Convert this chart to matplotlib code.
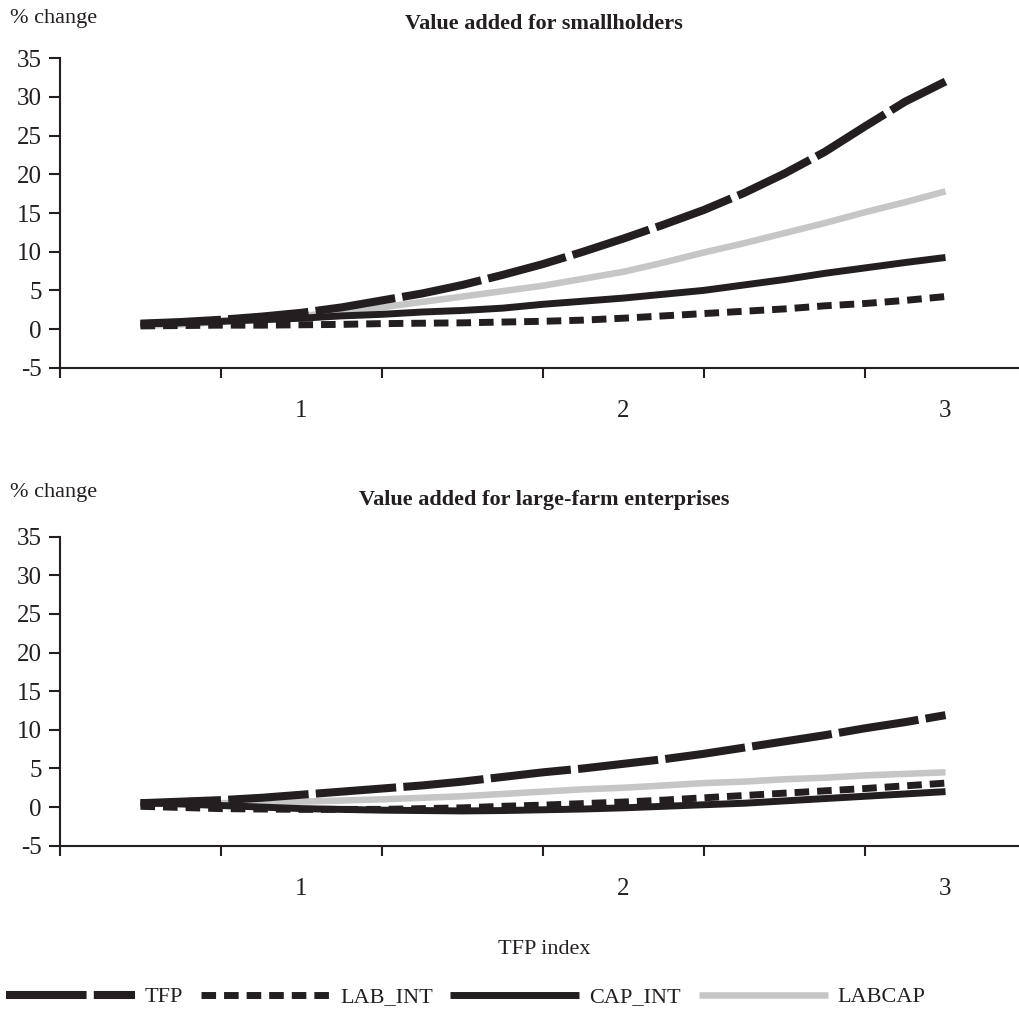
import numpy as np
import matplotlib
matplotlib.use("Agg")
import matplotlib.pyplot as plt

plt.rcParams['font.family'] = ['Liberation Serif', 'DejaVu Serif']
plt.rcParams['axes.unicode_minus'] = False

# TFP index values
tfp_index = [0.5, 0.625, 0.75, 0.875, 1.0, 1.125, 1.25, 1.375, 1.5, 1.625, 1.75,
             1.875, 2.0, 2.125, 2.25, 2.375, 2.5, 2.625, 2.75, 2.875, 3.0]
x_labels = [1, 2, 3]
series_names = ["TFP", "LAB_INT", "CAP_INT", "LABCAP"]

# Value added for smallholders (% change)
small_tfp = [0.7, 0.9, 1.2, 1.6, 2.1, 2.8, 3.7, 4.6, 5.7, 7.0, 8.4,
             10.0, 11.7, 13.5, 15.4, 17.6, 20.1, 22.9, 26.2, 29.4, 32.0]
small_lab_int = [0.4, 0.45, 0.5, 0.5, 0.55, 0.6, 0.7, 0.75, 0.8, 0.9, 1.0,
                 1.15, 1.4, 1.7, 2.0, 2.3, 2.6, 3.0, 3.3, 3.7, 4.2]
small_cap_int = [0.7, 0.8, 1.0, 1.2, 1.4, 1.7, 1.9, 2.2, 2.4, 2.7, 3.2,
                 3.6, 4.0, 4.5, 5.0, 5.7, 6.4, 7.2, 7.9, 8.6, 9.25]
small_labcap = [0.4, 0.6, 0.9, 1.3, 1.7, 2.2, 2.8, 3.5, 4.2, 4.9, 5.6,
                6.5, 7.4, 8.6, 9.9, 11.1, 12.4, 13.7, 15.1, 16.4, 17.8]

# Value added for large-farm enterprises (% change)
large_tfp = [0.5, 0.7, 0.9, 1.2, 1.6, 2.0, 2.4, 2.8, 3.3, 3.9, 4.5,
             5.0, 5.6, 6.2, 6.9, 7.7, 8.5, 9.3, 10.2, 11.0, 11.9]
large_lab_int = [0.1, -0.05, -0.2, -0.25, -0.3, -0.3, -0.3, -0.2, -0.1, 0.1, 0.25,
                 0.45, 0.65, 0.9, 1.2, 1.5, 1.8, 2.1, 2.4, 2.75, 3.1]
large_cap_int = [0.6, 0.4, 0.2, 0.0, -0.2, -0.3, -0.4, -0.45, -0.5, -0.45, -0.35,
                 -0.25, -0.1, 0.1, 0.3, 0.5, 0.8, 1.1, 1.4, 1.7, 2.0]
large_labcap = [0.4, 0.45, 0.5, 0.6, 0.7, 0.85, 1.0, 1.2, 1.4, 1.7, 2.0,
                2.3, 2.5, 2.8, 3.1, 3.3, 3.6, 3.8, 4.1, 4.3, 4.5]

BLACK = '#231f20'
GRAY = '#c6c6c6'
FS = 16
TICK_FS = 18

fig = plt.figure(figsize=(10.2, 10.11), dpi=100)
W, H = 1020, 1011

def make_axes(top_px, bottom_px):
    left = 60 / W
    width = 966 / W
    b = 1 - bottom_px / H
    h = (bottom_px - top_px) / H
    return fig.add_axes([left, b, width, h])

ax1 = make_axes(58.3, 367.7)
ax2 = make_axes(536.7, 845.7)

handles = None
for ax, data in [(ax1, (small_tfp, small_lab_int, small_cap_int, small_labcap)),
                 (ax2, (large_tfp, large_lab_int, large_cap_int, large_labcap))]:
    tfp, lab, cap, lc = data
    l4, = ax.plot(tfp_index, lc, color=GRAY, lw=4.7, solid_capstyle='butt', zorder=2, label=series_names[3])
    l3, = ax.plot(tfp_index, cap, color=BLACK, lw=5.0, solid_capstyle='butt', zorder=3, label=series_names[2])
    l2, = ax.plot(tfp_index, lab, color=BLACK, lw=5.0, dashes=(2.1, 1.15), dash_capstyle='butt', zorder=4, label=series_names[1])
    l1, = ax.plot(tfp_index, tfp, color=BLACK, lw=5.8, dashes=(10, 0.9), dash_capstyle='butt', zorder=5, label=series_names[0])
    handles = [l1, l2, l3, l4]
    ax.set_xlim(0.25, 3.25)
    ax.set_ylim(-5, 35)
    ax.set_yticks(np.arange(-5, 36, 5))
    ax.set_xticks(x_labels)
    ax.set_xticklabels([str(v) for v in x_labels])
    ax.set_xticks(np.arange(0.25, 3.3, 0.5), minor=True)
    ax.tick_params(axis='x', which='major', length=0, pad=23, labelsize=TICK_FS, colors=BLACK)
    ax.tick_params(axis='x', which='minor', length=7, width=1.5, direction='out', color=BLACK)
    ax.tick_params(axis='y', which='major', length=8, width=1.5, direction='out', pad=5, labelsize=TICK_FS, colors=BLACK)
    for s in ['top', 'right']:
        ax.spines[s].set_visible(False)
    for s in ['left', 'bottom']:
        ax.spines[s].set_linewidth(1.5)
        ax.spines[s].set_color(BLACK)
    ax.set_facecolor('none')

fig.text(10 / W, 1 - 18 / H, '% change', ha='left', va='center', fontsize=FS, color=BLACK)
fig.text(544 / W, 1 - 24 / H, 'Value added for smallholders', ha='center', va='center',
         fontsize=FS, fontweight='bold', color=BLACK)
fig.text(10 / W, 1 - 493 / H, '% change', ha='left', va='center', fontsize=FS, color=BLACK)
fig.text(544 / W, 1 - 500 / H, 'Value added for large-farm enterprises', ha='center', va='center',
         fontsize=FS, fontweight='bold', color=BLACK)
fig.text(544 / W, 1 - 950 / H, 'TFP index', ha='center', va='center', fontsize=FS, color=BLACK)

leg = fig.legend(handles, series_names, loc='center left', bbox_to_anchor=(6 / W, 1 - 997 / H),
                 ncol=4, frameon=False, fontsize=FS, handlelength=5.8, handletextpad=0.45,
                 columnspacing=0.8, borderpad=0, borderaxespad=0)
for t in leg.get_texts():
    t.set_color(BLACK)

fig.savefig('out.png', dpi=100)
